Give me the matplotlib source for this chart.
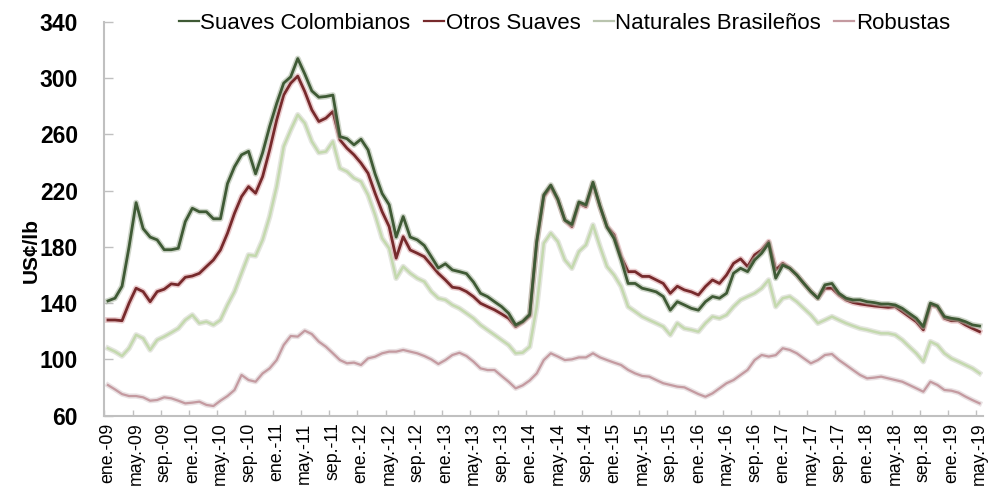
import numpy as np
import matplotlib
matplotlib.use("Agg")
from matplotlib import pyplot as plt
from matplotlib.lines import Line2D
import matplotlib.patheffects as pe

# precios mensuales, ene-09 a may-19 (US$ centavos / libra)
suaves_colombianos = [
    141.6, 143.5, 152, 180, 211.5, 193, 187, 185, 178, 178, 179, 198,
    207.5, 205, 205, 200, 200, 225, 237, 245.5, 248, 232, 247, 265.6,
    282, 296.5, 301, 314, 303, 291, 286.5, 287, 288, 258.5, 257, 252.6,
    256.6, 249, 232, 218, 210, 187, 201.6, 187, 185, 181, 173, 165,
    168, 163.6, 162.4, 161, 155, 147, 144.6, 141, 137.5, 132.8, 124.5, 127,
    132, 184, 217, 224, 214, 199, 196, 212, 210, 226, 209, 194,
    186, 171, 154, 154, 150.6, 149.4, 148, 144.7, 135, 141, 138.7, 136.3,
    135, 141, 144.7, 143.5, 147, 161.3, 164.8, 162.4, 170.7, 175.5, 182.6, 157.7,
    167, 164.8, 160, 154, 148.2, 143.5, 153, 154, 147, 143.5, 142.3, 142.3,
    141, 140.4, 139.4, 139.4, 138.7, 136.3, 132.7, 129.2, 123.3, 140, 138, 130.4,
    129.2, 128.5, 126.8, 124.5, 123.7,
]
otros_suaves = [
    128, 128, 127.5, 140, 150.6, 148.2, 141, 148.2, 149.9, 153.7, 153, 158.4,
    159.3, 161.2, 166, 170.7, 177.8, 189.7, 203.9, 215.8, 222.9, 218.2, 230, 249,
    270.3, 288.1, 296.5, 301.5, 290.5, 277.5, 269.2, 271.6, 276.3, 256.2, 250.2, 245.5,
    239.6, 232.4, 218.2, 205.1, 194.5, 172, 187.3, 177.8, 175.5, 173, 167.1, 161.2,
    156.5, 151.3, 150.6, 148.2, 144.6, 139.9, 137.5, 135.2, 132.3, 129.2, 123.3, 126.5,
    131, 183, 215.8, 223, 213.5, 199, 194.5, 211, 208.7, 225.3, 208.7, 194.5,
    188.6, 173, 162.4, 162.4, 159, 159, 156.5, 154, 147, 152, 149.4, 148,
    145.8, 151.8, 156.5, 154, 160, 168.3, 171.5, 166, 174.3, 177.8, 183.8, 163.6,
    168.3, 164.8, 160, 154, 148.2, 143.5, 150.6, 150.6, 145.8, 142.3, 140.4, 139.4,
    138.7, 138, 137.5, 137, 137.5, 134, 130.4, 126.8, 121, 138.7, 137.5, 129.2,
    127.5, 127.5, 124.5, 122, 119.7,
]
naturales_brasilenos = [
    107.9, 105.5, 102.4, 107.9, 117.4, 115, 106.7, 113.8, 116.2, 119, 122, 128,
    131.6, 125.7, 126.8, 124.5, 128, 138.7, 148.2, 161.3, 174.3, 173.6, 185, 201.6,
    223, 251.4, 263.2, 274, 268, 255, 247, 247.8, 255, 236, 233.6, 228.9,
    226.5, 217, 202.8, 186.2, 179, 157.7, 166, 161.3, 157.7, 155.3, 148.2, 143.5,
    142.3, 138.7, 136.3, 132.8, 129.2, 124.5, 120.9, 117.4, 113.8, 110.2, 104.3, 104.8,
    109, 137.5, 182.6, 189.8, 183.8, 170.7, 164.8, 176.7, 181.4, 195.6, 180.2, 166,
    160, 151.8, 137.5, 134, 130.4, 128, 125.7, 123.3, 117.4, 125.7, 122, 121,
    119.7, 125.7, 130.4, 129.2, 131.6, 137.5, 142.3, 144.7, 147, 150.6, 156.5, 137.5,
    143.5, 144.7, 141, 136.3, 131.6, 125.7, 128, 130.4, 128, 125.7, 123.8, 122,
    121, 119.7, 118.5, 118.5, 117.4, 113.8, 109, 104.3, 98.4, 112.6, 110.2, 104.3,
    100.7, 98.4, 96, 93.6, 90.1,
]
robustas = [
    81.7, 78.6, 75.3, 73.9, 73.9, 73, 70.6, 71.1, 73, 72.3, 70.6, 68.7,
    69.2, 69.9, 67.6, 66.8, 70.6, 73.9, 78.2, 88.9, 85.3, 84.1, 90, 93.6,
    99.5, 110.2, 116.6, 116.2, 120.4, 118, 112.6, 109, 104.3, 99.5, 97.2, 97.7,
    96, 100.7, 101.9, 104.3, 105.5, 105.5, 106.7, 105.5, 104.3, 102.4, 100, 96.7,
    99.5, 103.1, 104.7, 102.4, 98.4, 93.6, 92.4, 92.4, 88.2, 84.1, 79.4, 81.5,
    85, 90, 99.5, 104.3, 102, 99.5, 100, 101.4, 101.4, 104.3, 101.4, 99.5,
    97.7, 96, 92.5, 90, 88.2, 87.7, 85.3, 83, 81.8, 80.6, 80.1, 77.7,
    75.3, 73.4, 75.8, 79.4, 83, 85.3, 88.9, 92.5, 99.5, 103.1, 102, 103,
    107.9, 106.7, 104.3, 100.7, 97.2, 99.5, 103.1, 103.8, 99.5, 96, 92.4, 88.9,
    86.5, 87, 87.7, 86.5, 85.3, 84.1, 81.8, 79.4, 77, 84.1, 81.8, 78.2,
    77.7, 76.3, 73.5, 71, 68.7,
]

meses = ["ene.", "may.", "sep."]
anios = ["09", "10", "11", "12", "13", "14", "15", "16", "17", "18", "19"]
etiquetas = [f"{m}-{a}" for a in anios for m in meses][:32]

# nombre, datos, color, sombra, ancho
series = [
    ("Suaves Colombianos", suaves_colombianos, "#3f5a35", "#a9b5a0", 2.0),
    ("Otros Suaves", otros_suaves, "#772a2c", "#d9a3a6", 2.0),
    ("Naturales Brasileños", naturales_brasilenos, "#c4d9ae", "#cfd2c6", 1.8),
    ("Robustas", robustas, "#c49aa0", "#d8cacc", 1.6),
]

plt.rcParams["font.family"] = ["Liberation Sans", "DejaVu Sans"]

fig = plt.figure(figsize=(9.92, 4.92), dpi=100)
ax = fig.add_axes([0.1053, 0.1553, 0.8857, 0.80])

x = np.arange(len(suaves_colombianos))
# dibujar de atras hacia adelante
for nombre, vals, color, sombra, lw in reversed(series):
    ax.plot(x, vals, color=color, lw=lw, solid_joinstyle="round",
            path_effects=[pe.Stroke(linewidth=lw + 2.2, foreground=sombra, alpha=0.55),
                          pe.Normal()])

ax.set_xlim(-0.5, len(x) - 0.5)
ax.set_ylim(60, 340)
ax.set_yticks(range(60, 341, 40))
ax.set_xticks(np.arange(0, len(x), 4))
ax.set_xticklabels(etiquetas, rotation=90, fontsize=12.8)
ax.set_xticks(np.arange(-0.5, len(x) - 1, 4), minor=True)

for s in ["top", "right"]:
    ax.spines[s].set_visible(False)
for s in ["left", "bottom"]:
    ax.spines[s].set_color("#c0c0c0")
    ax.spines[s].set_linewidth(1.5)

ax.tick_params(axis="x", which="major", length=0, pad=5)
ax.tick_params(axis="x", which="minor", direction="in", length=4, width=1, color="#c0c0c0")
ax.tick_params(axis="y", direction="in", length=6.5, width=1, color="#c0c0c0", pad=19)
for t in ax.get_yticklabels():
    t.set_fontweight("bold")
    t.set_fontsize(16.5)

fig.text(0.031, 0.49, "US¢/lb", rotation=90, fontsize=15, fontweight="bold",
         ha="center", va="center")

handles = [Line2D([], [], color=c if n != "Naturales Brasileños" else "#b9c4ae", lw=1.6)
           for n, _, c, _, _ in series]
fig.legend(handles, [s[0] for s in series], loc="center", bbox_to_anchor=(0.569, 0.953),
           ncol=4, frameon=False, fontsize=16, handlelength=0.9, handletextpad=0.08,
           columnspacing=0.6)

fig.savefig("out.png", dpi=100)
